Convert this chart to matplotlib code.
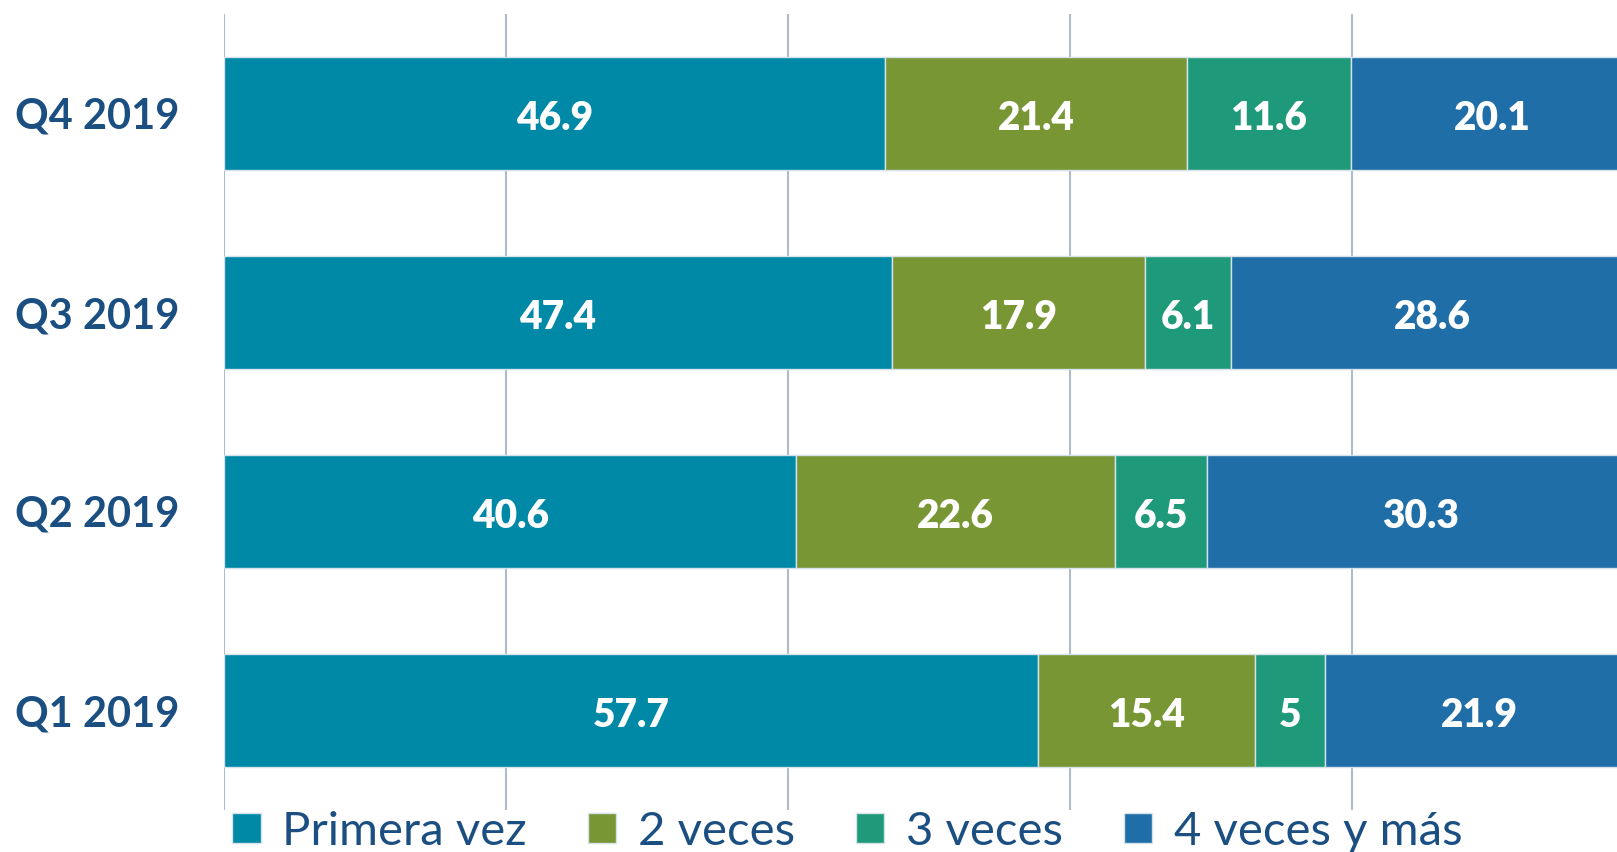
import matplotlib
matplotlib.use("Agg")
from matplotlib import pyplot as plt

# datos
trimestres = ["Q1 2019", "Q2 2019", "Q3 2019", "Q4 2019"]
series = ["Primera vez", "2 veces", "3 veces", "4 veces y más"]
primera_vez = [57.7, 40.6, 47.4, 46.9]
dos_veces = [15.4, 22.6, 17.9, 21.4]
tres_veces = [5, 6.5, 6.1, 11.6]
cuatro_mas = [21.9, 30.3, 28.6, 20.1]

colores = ["#0089A7", "#789734", "#1E9A7A", "#1F6EA7"]
azul_texto = "#1B4F82"

plt.rcParams['font.family'] = ['Lato', 'DejaVu Sans']

fig = plt.figure(figsize=(16.17, 8.52), dpi=100)
ax = fig.add_axes([224 / 1617, 42 / 852, 1410 / 1617, 796 / 852])

y = range(len(trimestres))
izquierda = [0] * len(trimestres)
for nombre, valores, color in zip(series, [primera_vez, dos_veces, tres_veces, cuatro_mas], colores):
    barras = ax.barh(y, valores, left=izquierda, height=0.57, color=color, label=nombre,
                     edgecolor="#D6E2EA", linewidth=1, zorder=3)
    for b, v in zip(barras, valores):
        ax.text(b.get_x() + b.get_width() / 2, b.get_y() + b.get_height() / 2 - 0.025, f"{v:g}",
                ha="center", va="center", color="white", fontsize=28, fontweight="heavy", zorder=4)
    izquierda = [a + b for a, b in zip(izquierda, valores)]

ax.set_xlim(0, 100)
ax.set_ylim(-0.5, 3.5)
ax.set_xticks([0, 20, 40, 60, 80, 100])
ax.set_xticklabels([])
ax.tick_params(axis="x", length=0)
ax.grid(axis="x", color="#AEBBCB", linewidth=1.5, zorder=0)
ax.set_yticks(list(y))
ax.set_yticklabels(trimestres, fontsize=30, fontweight="bold", color=azul_texto)
ax.tick_params(axis="y", length=0, pad=32)
for lado in ["top", "right", "bottom", "left"]:
    ax.spines[lado].set_visible(False)

fig.legend(loc="center", bbox_to_anchor=(0.524, 0.024), ncol=4, frameon=False,
           fontsize=34, labelcolor=azul_texto, handlelength=0.6, handleheight=0.6,
           handletextpad=0.45, columnspacing=1.3, borderpad=0)

fig.savefig("out.png", dpi=100)
